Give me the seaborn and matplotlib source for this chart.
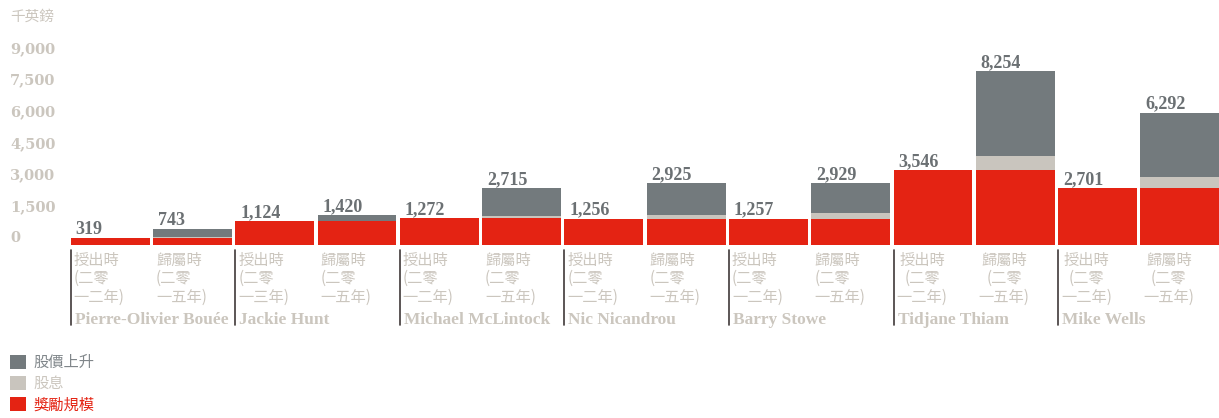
import numpy as np
import pandas as pd
import matplotlib
matplotlib.use("Agg")
import matplotlib.pyplot as plt
import matplotlib.transforms as mtransforms
from matplotlib.patches import Patch
import seaborn as sns

# Executive awards (GBP thousands): value at grant and value at vesting
people = ["Pierre-Olivier Bouée", "Jackie Hunt", "Michael McLintock",
          "Nic Nicandrou", "Barry Stowe", "Tidjane Thiam", "Mike Wells"]
grant_years = ["一二年", "一三年", "一二年", "一二年", "一二年", "一二年", "一二年"]
vest_year = "一五年"
award_size = [319, 1124, 1272, 1256, 1257, 3546, 2701]
vest_dividend = [40, 0, 95, 190, 240, 665, 520]
vest_total = [743, 1420, 2715, 2925, 2929, 8254, 6292]
y_ticks = [0, 1500, 3000, 4500, 6000, 7500, 9000]

legend_labels = ["股價上升", "股息", "獎勵規模"]
unit_label = "千英鎊"

RED = "#e42313"
GREY = "#737a7d"
BEIGE = "#c9c5be"
LABEL_GREY = "#6b7073"
TEXT_BEIGE = "#cbc6be"

sns.set_theme(style="white")
plt.rcParams["font.family"] = ["Noto Sans CJK TC", "DejaVu Sans"]

# one row per bar: grant bar followed by vesting bar for each person
rows = []
for i, p in enumerate(people):
    rows.append(dict(slot=f"{p}|grant", award=award_size[i],
                     award_div=award_size[i], total=award_size[i]))
    rows.append(dict(slot=f"{p}|vest", award=award_size[i],
                     award_div=award_size[i] + vest_dividend[i],
                     total=vest_total[i]))
df = pd.DataFrame(rows)
order = list(df["slot"])

W, H = 1219, 418
fig = plt.figure(figsize=(W / 100, H / 100), dpi=100)
ax_left, ax_right = 69, 1221
ax_bottom, ax_top = 245, 55.5
ax = fig.add_axes([ax_left / W, 1 - ax_bottom / H,
                   (ax_right - ax_left) / W, (ax_bottom - ax_top) / H])

bw = 0.96
common = dict(data=df, x="slot", order=order, width=bw, saturation=1,
              errorbar=None, linewidth=0, ax=ax)
sns.barplot(y="total", color=GREY, **common)
sns.barplot(y="award_div", color=BEIGE, **common)
sns.barplot(y="award", color=RED, **common)

ax.set_xlim(-0.5, len(order) - 0.5)
ax.set_ylim(0, 9000)
ax.set_xlabel("")
ax.set_ylabel("")
ax.set_xticks([])
for s in ax.spines.values():
    s.set_visible(False)

# y tick labels: left aligned at the figure edge, raised above their value
ax.set_yticks(y_ticks)
ax.set_yticklabels([f"{v:,}" for v in y_ticks])
ax.tick_params(axis="y", length=0, pad=0)
shift = mtransforms.ScaledTranslation(-(ax_left - 10) / 100, 8 / 100,
                                      fig.dpi_scale_trans)
for lab in ax.get_yticklabels():
    lab.set_horizontalalignment("left")
    lab.set_family("DejaVu Serif")
    lab.set_fontweight("bold")
    lab.set_fontsize(10.5)
    lab.set_color(TEXT_BEIGE)
    lab.set_transform(lab.get_transform() + shift)

fig.text(10 / W, 1 - 17 / H, unit_label, ha="left", va="center",
         fontsize=10.5, color=TEXT_BEIGE)

# value labels above each bar
for k, tot in enumerate(df["total"]):
    ax.annotate(f"{tot:,}", xy=(k - bw / 2, tot), xytext=(5, 0),
                textcoords="offset pixels", ha="left", va="bottom",
                family="Liberation Serif", fontweight="bold", fontsize=13,
                color=LABEL_GREY)

# category labels, person names and group separators below the bars
axes_h = ax_bottom - ax_top
for i, p in enumerate(people):
    g = 2 * i
    x0 = g - bw / 2
    centred = i >= 5
    texts = [f"授出時\n(二零\n{grant_years[i]})", f"歸屬時\n(二零\n{vest_year})"]
    for j, t in enumerate(texts):
        ax.annotate(t, xy=(g + j - bw / 2, 0), xycoords=("data", "axes fraction"),
                    xytext=(3, -7), textcoords="offset pixels",
                    ha="left", va="top", fontsize=11, color=TEXT_BEIGE,
                    linespacing=1.1,
                    multialignment="center" if centred else "left")
    ax.annotate(p, xy=(x0, 0), xycoords=("data", "axes fraction"),
                xytext=(4, -75), textcoords="offset pixels",
                ha="left", va="center", family="Liberation Serif",
                fontweight="bold", fontsize=12.5, color=TEXT_BEIGE)
    ax.plot([x0, x0], [-5 / axes_h, -80 / axes_h], color="#3f3838", lw=1.2,
            transform=ax.get_xaxis_transform(), clip_on=False)

handles = [Patch(facecolor=c, edgecolor="none") for c in (GREY, BEIGE, RED)]
leg = fig.legend(handles, legend_labels, loc="upper left",
                 bbox_to_anchor=(10 / W, 1 - 354 / H), frameon=False,
                 fontsize=11, handlelength=1.05, handleheight=1.05,
                 handletextpad=0.5, labelspacing=0.28, borderpad=0,
                 borderaxespad=0)
for txt, c in zip(leg.get_texts(), ("#80868a", TEXT_BEIGE, RED)):
    txt.set_color(c)

fig.savefig("out.png", dpi=100)
